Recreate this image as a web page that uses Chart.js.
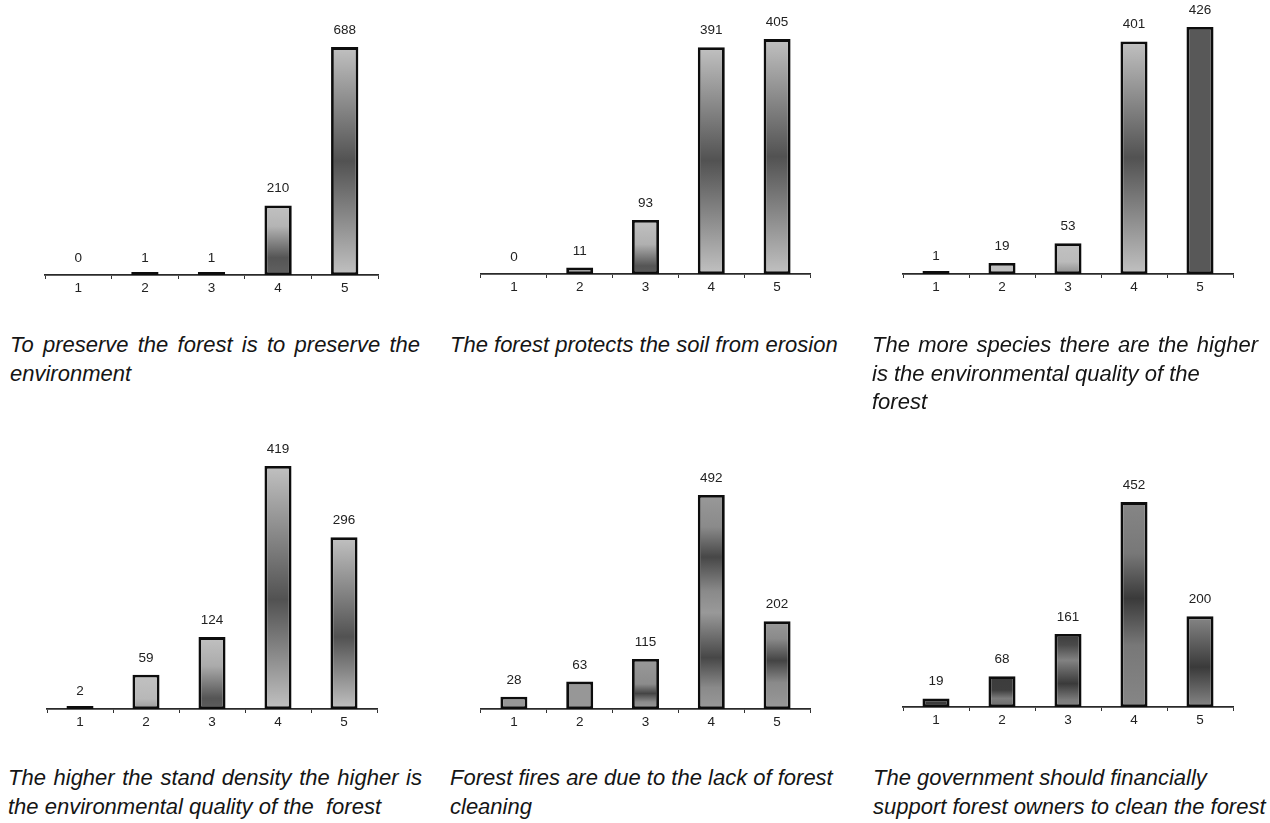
<!DOCTYPE html>
<html><head><meta charset="utf-8">
<script src="https://cdn.jsdelivr.net/npm/chart.js@4.4.1/dist/chart.umd.min.js"></script>
<style>
html,body{margin:0;padding:0;background:#fff;width:1270px;height:823px;overflow:hidden;position:relative;}
.panel{position:absolute;}
.cap{position:absolute;font-family:"Liberation Sans",Arial,sans-serif;font-style:italic;font-size:22px;line-height:22px;height:22px;color:#151515;white-space:pre;}
.just{text-align:justify;text-align-last:justify;white-space:normal;overflow:visible;}
</style></head><body>
<script>
// ---- data ----
const categories = ['1', '2', '3', '4', '5'];
const preserveForest = [0, 1, 1, 210, 688];
const soilErosion = [0, 11, 93, 391, 405];
const speciesQuality = [1, 19, 53, 401, 426];
const standDensity = [2, 59, 124, 419, 296];
const forestFires = [28, 63, 115, 492, 202];
const governmentSupport = [19, 68, 161, 452, 200];
const yMaxima = [800, 450, 450, 450, 600, 600];

const captionLines = [
  'To preserve the forest is to preserve the', 'environment',
  'The forest protects the soil from erosion',
  'The more species there are the higher', 'is the environmental quality of the', 'forest',
  'The higher the stand density the higher is', 'the environmental quality of the  forest',
  'Forest fires are due to the lack of forest', 'cleaning',
  'The government should financially', 'support forest owners to clean the forest'
];

// ---- styles / layout ----
const FONT = '"Liberation Sans", Arial, sans-serif';
const L = '#c1c1c1', D = '#525252';
const center = [[0, L], [0.5, D], [1, L]];
const fills = [
  [null, '#151515', '#151515', [[0, L], [0.3, '#b4b4b4'], [0.75, '#555'], [1, '#616161']], center],
  [null, '#bdbdbd', [[0, L], [0.45, '#b0b0b0'], [0.85, '#555'], [1, '#5c5c5c']], center, center],
  ['#151515', '#bfbfbf', [[0, L], [0.6, '#bbb'], [1, '#8c8c8c']], center, '#585858'],
  ['#151515', [[0, L], [0.7, '#b8b8b8'], [1, '#9a9a9a']], [[0, L], [0.4, '#ababab'], [0.85, '#555'], [1, '#5e5e5e']],
    [[0, L], [0.55, D], [1, L]], [[0, L], [0.58, D], [1, L]]],
  ['#979797', '#979797', [[0, '#999'], [0.5, '#8c8c8c'], [0.69, '#454545'], [0.86, '#8a8a8a'], [1, '#999']],
    [[0, '#999'], [0.15, '#8a8a8a'], [0.29, '#474747'], [0.45, '#8a8a8a'], [0.55, '#999'], [0.76, '#474747'], [0.9, '#8a8a8a'], [1, '#999']],
    [[0, '#999'], [0.2, '#8a8a8a'], [0.45, '#444'], [0.7, '#8a8a8a'], [1, '#999']]],
  ['#3c3c3c', [[0, '#3c3c3c'], [0.45, '#3e3e3e'], [0.72, '#7c7c7c'], [1, '#6a6a6a']],
    [[0, '#3c3c3c'], [0.15, '#4a4a4a'], [0.36, '#828282'], [0.68, '#3a3a3a'], [0.9, '#7a7a7a'], [1, '#828282']],
    [[0, '#868686'], [0.25, '#787878'], [0.47, '#3a3a3a'], [0.7, '#787878'], [1, '#868686']],
    [[0, '#868686'], [0.56, '#3a3a3a'], [1, '#868686']]]
];
const boxes = [
  {left: 45, right: 378, top: 10, bottom: 275},
  {left: 481, right: 810, top: 12.5, bottom: 274},
  {left: 903, right: 1233, top: 13, bottom: 274},
  {left: 47, right: 377, top: 448, bottom: 709},
  {left: 481, right: 810, top: 448, bottom: 709},
  {left: 903, right: 1233, top: 435, bottom: 707}
];
const capPos = [
  {x: 10, base: 353, w: 410}, {x: 10, base: 381.5},
  {x: 450, base: 353},
  {x: 872, base: 353, w: 386}, {x: 872, base: 381.5}, {x: 872, base: 410},
  {x: 8, base: 786, w: 414}, {x: 8, base: 814.5},
  {x: 450, base: 786}, {x: 450, base: 814.5},
  {x: 873, base: 786}, {x: 873, base: 814.5}
];

const series = [preserveForest, soilErosion, speciesQuality, standDensity, forestFires, governmentSupport];

const valueLabels = {
  id: 'valueLabels',
  afterDatasetsDraw(chart) {
    const ctx = chart.ctx, ys = chart.scales.y;
    const meta = chart.getDatasetMeta(0);
    const data = chart.data.datasets[0].data;
    ctx.save();
    ctx.font = '13.5px ' + FONT;
    ctx.fillStyle = '#222';
    ctx.textAlign = 'center';
    ctx.textBaseline = 'middle';
    meta.data.forEach((bar, i) => {
      ctx.fillText(String(data[i]), bar.x, ys.getPixelForValue(data[i]) - 16.7);
    });
    ctx.restore();
  }
};

const PAD_T = 30, PAD_LR = 6, AXIS_H = 30;

series.forEach((values, p) => {
  const b = boxes[p];
  const div = document.createElement('div');
  div.className = 'panel';
  const w = b.right - b.left + 2 * PAD_LR;
  const h = b.bottom - b.top + PAD_T + AXIS_H;
  div.style.left = (b.left - PAD_LR) + 'px';
  div.style.top = (b.top - PAD_T) + 'px';
  div.style.width = w + 'px';
  div.style.height = h + 'px';
  const canvas = document.createElement('canvas');
  canvas.width = w; canvas.height = h;
  canvas.style.width = w + 'px'; canvas.style.height = h + 'px';
  div.appendChild(canvas);
  document.body.appendChild(div);

  const specs = fills[p];
  new Chart(canvas, {
    type: 'bar',
    data: {
      labels: categories,
      datasets: [{
        data: values,
        backgroundColor: (c) => {
          const chart = c.chart;
          if (!chart.chartArea) return 'rgba(0,0,0,0)';
          const spec = specs[c.dataIndex];
          if (spec === null || c.raw === 0) return 'rgba(0,0,0,0)';
          if (typeof spec === 'string') return spec;
          const ys = chart.scales.y;
          const top = ys.getPixelForValue(c.raw), bot = ys.getPixelForValue(0);
          const g = chart.ctx.createLinearGradient(0, top, 0, bot);
          spec.forEach(([o, col]) => g.addColorStop(o, col));
          return g;
        },
        borderColor: (c) => c.raw === 0 ? 'rgba(0,0,0,0)' : '#0d0d0d',
        borderWidth: 2.8,
        borderSkipped: false,
        barPercentage: 0.41,
        categoryPercentage: 1,
        minBarLength: 3
      }]
    },
    options: {
      responsive: false,
      animation: false,
      devicePixelRatio: 1,
      layout: {padding: {left: PAD_LR, right: PAD_LR, top: PAD_T, bottom: 0}},
      plugins: {legend: {display: false}, tooltip: {enabled: false}},
      scales: {
        x: {
          grid: {offset: true, drawOnChartArea: false, drawTicks: true, tickLength: 4, color: '#333', lineWidth: 1},
          border: {display: true, color: '#2a2a2a', width: 1.8},
          ticks: {font: {family: FONT, size: 13.5}, color: '#222', padding: 1, maxRotation: 0},
          afterFit(s) { s.height = AXIS_H; }
        },
        y: {display: false, min: 0, max: yMaxima[p]}
      }
    },
    plugins: [valueLabels]
  });
});

captionLines.forEach((t, i) => {
  const pos = capPos[i];
  const d = document.createElement('div');
  d.className = 'cap' + (pos.w ? ' just' : '');
  d.textContent = t;
  d.style.left = pos.x + 'px';
  d.style.top = (pos.base - 18.6) + 'px';
  if (pos.w) d.style.width = pos.w + 'px';
  document.body.appendChild(d);
});
</script>
</body></html>
